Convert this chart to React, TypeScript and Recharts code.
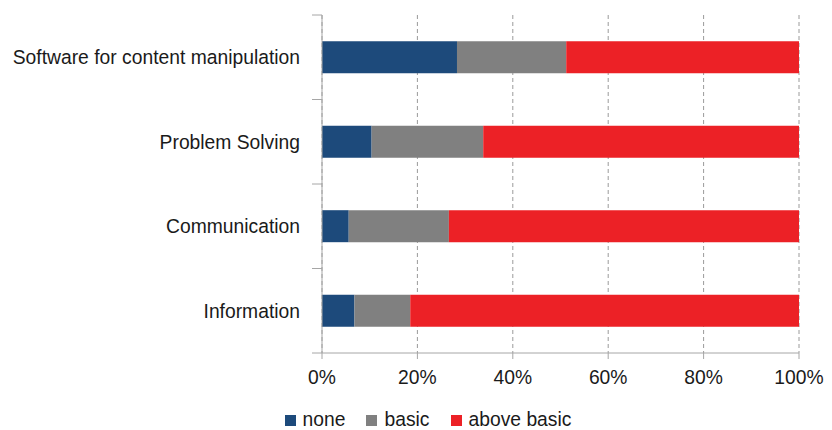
import { BarChart, Bar, XAxis, YAxis, CartesianGrid, Legend } from 'recharts';

const categories = [
  'Software for content manipulation',
  'Problem Solving',
  'Communication',
  'Information',
];
const noneValues = [28.3, 10.4, 5.6, 6.8];
const basicValues = [22.9, 23.4, 21.0, 11.7];
const aboveBasicValues = [48.8, 66.2, 73.4, 81.5];
const xTicks = [0, 20, 40, 60, 80, 100];
const legendOrder = ['none', 'basic', 'above basic'];

const data = categories.map((name, i) => ({
  name,
  none: noneValues[i],
  basic: basicValues[i],
  aboveBasic: aboveBasicValues[i],
}));

const FONT = '"Liberation Sans", Arial, sans-serif';
const AXIS = '#a6a6a6';
const TEXT = '#1a1a1a';
const TICK_GAP = 22;

// category label plus a tick mark on the band edges, like the original
function CategoryTick(props: any) {
  const { x, y, payload, index, visibleTicksCount, height } = props;
  const half = height / visibleTicksCount / 2;
  const axisX = x + TICK_GAP;
  return (
    <g>
      <line x1={axisX - 10} x2={axisX} y1={y - half} y2={y - half} stroke={AXIS} />
      {index === visibleTicksCount - 1 && (
        <line x1={axisX - 10} x2={axisX} y1={y + half} y2={y + half} stroke={AXIS} />
      )}
      <text
        x={x}
        y={y}
        dy="0.355em"
        textAnchor="end"
        fill={TEXT}
        fontSize={19.3}
        fontFamily={FONT}
      >
        {payload.value}
      </text>
    </g>
  );
}

function renderLegend(props: any) {
  const payload = [...(props.payload || [])].sort(
    (a: any, b: any) => legendOrder.indexOf(a.value) - legendOrder.indexOf(b.value)
  );
  return (
    <div
      style={{
        display: 'flex',
        justifyContent: 'center',
        height: 20,
        lineHeight: '20px',
        fontFamily: FONT,
        fontSize: 19.3,
        color: TEXT,
        paddingLeft: 57,
      }}
    >
      {payload.map((entry: any, i: number) => (
        <span
          key={entry.value}
          style={{
            display: 'flex',
            alignItems: 'center',
            marginRight: i < payload.length - 1 ? 21 : 0,
          }}
        >
          <span
            style={{
              width: 11,
              height: 11,
              background: entry.color,
              marginRight: 7,
              display: 'inline-block',
            }}
          />
          {entry.value}
        </span>
      ))}
    </div>
  );
}

export default function App() {
  return (
    <div style={{ position: 'absolute', left: 0, top: 0, background: '#fff' }}>
      <BarChart
        width={832}
        height={430}
        data={data}
        layout="vertical"
        margin={{ top: 15, right: 33, bottom: 0, left: 0 }}
        barCategoryGap="31%"
      >
        <CartesianGrid
          horizontal={false}
          stroke="#9a9a9a"
          strokeDasharray="4 3"
        />
        <XAxis
          type="number"
          domain={[0, 100]}
          ticks={xTicks}
          tickFormatter={(v: number) => `${v}%`}
          height={57}
          stroke={AXIS}
          tickSize={6}
          tickMargin={11}
          tick={{ fill: TEXT, fontSize: 19.3, fontFamily: FONT }}
          interval={0}
        />
        <YAxis
          type="category"
          dataKey="name"
          width={322}
          stroke={AXIS}
          tickLine={false}
          tickSize={0}
          tickMargin={TICK_GAP}
          tick={<CategoryTick />}
          interval={0}
        />
        <Legend verticalAlign="bottom" content={renderLegend} />
        <Bar dataKey="none" name="none" stackId="a" fill="#1d4a7b" isAnimationActive={false} />
        <Bar dataKey="basic" name="basic" stackId="a" fill="#808080" isAnimationActive={false} />
        <Bar dataKey="aboveBasic" name="above basic" stackId="a" fill="#ec2126" isAnimationActive={false} />
      </BarChart>
    </div>
  );
}
